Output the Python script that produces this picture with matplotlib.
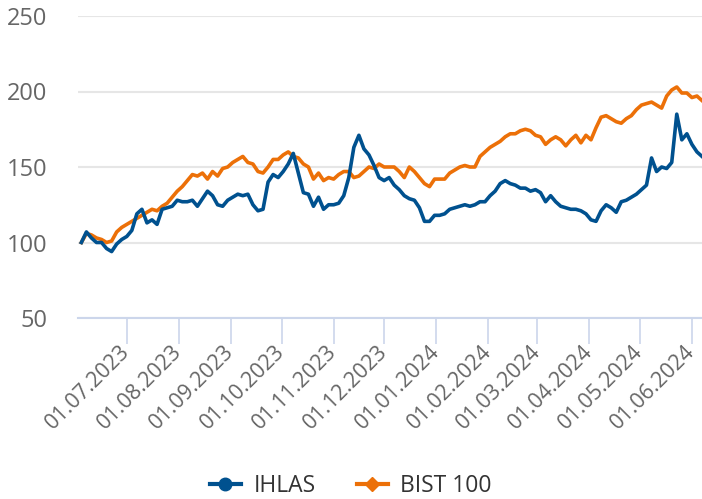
import pandas as pd
import numpy as np
import matplotlib
matplotlib.use('Agg')
import matplotlib.pyplot as plt
import matplotlib.dates as mdates
from matplotlib.lines import Line2D

# tarihler: 3 gunluk adimlarla
dates = pd.date_range('2023-06-04', '2024-06-07', freq='3D')

ihlas = [100, 107, 103, 100, 100, 96, 94, 99, 102, 104,
         108, 119, 122, 113, 115, 112, 122, 123, 124, 128,
         127, 127, 128, 124, 129, 134, 131, 125, 124, 128,
         130, 132, 131, 132, 125, 121, 122, 140, 145, 143,
         147, 152, 159, 146, 133, 132, 124, 130, 122, 125,
         125, 126, 131, 143, 163, 171, 162, 158, 151, 143,
         141, 143, 138, 135, 131, 129, 128, 123, 114, 114,
         118, 118, 119, 122, 123, 124, 125, 124, 125, 127,
         127, 131, 134, 139, 141, 139, 138, 136, 136, 134,
         135, 133, 127, 131, 127, 124, 123, 122, 122, 121,
         119, 115, 114, 121, 125, 123, 120, 127, 128, 130,
         132, 135, 138, 156, 147, 150, 149, 153, 185, 168,
         172, 165, 160, 157]

bist100 = [100, 106, 105, 103, 102, 100, 101, 107, 110, 112,
           114, 116, 118, 120, 122, 121, 124, 126, 130, 134,
           137, 141, 145, 144, 146, 142, 147, 144, 149, 150,
           153, 155, 157, 153, 152, 147, 146, 150, 155, 155,
           158, 160, 157, 156, 152, 150, 142, 146, 141, 143,
           142, 145, 147, 147, 143, 144, 147, 150, 149, 152,
           150, 150, 150, 147, 143, 150, 147, 143, 139, 137,
           142, 142, 142, 146, 148, 150, 151, 150, 150, 157,
           160, 163, 165, 167, 170, 172, 172, 174, 175, 174,
           171, 170, 165, 168, 170, 168, 164, 168, 171, 166,
           171, 168, 176, 183, 184, 182, 180, 179, 182, 184,
           188, 191, 192, 193, 191, 189, 197, 201, 203, 199,
           199, 196, 197, 194]

blue = '#00518f'
orange = '#ec7008'

fig = plt.figure(figsize=(7.02, 4.99), dpi=100)
ax = fig.add_axes([78 / 702, 1 - 318 / 499, 624 / 702, 302 / 499])

ax.plot(dates, ihlas, color=blue, lw=2.6, solid_joinstyle='round', zorder=3)
ax.plot(dates, bist100, color=orange, lw=2.6, solid_joinstyle='round', zorder=2)

ax.set_ylim(50, 250)
ax.set_yticks([50, 100, 150, 200, 250])
ax.set_xlim(pd.Timestamp('2023-06-02'), pd.Timestamp('2024-06-07'))
ax.xaxis.set_major_locator(mdates.MonthLocator(bymonthday=1))
ax.xaxis.set_major_formatter(mdates.DateFormatter('%d.%m.%Y'))

ax.grid(axis='y', color='#e6e6e6', lw=1.5)
ax.set_axisbelow(True)
for s in ['top', 'right', 'left']:
    ax.spines[s].set_visible(False)
ax.spines['bottom'].set_color('#ccd6eb')
ax.spines['bottom'].set_linewidth(1.5)

ax.tick_params(axis='y', length=0, pad=22, labelsize=17, labelcolor='#666666')
ax.tick_params(axis='x', length=19, width=1.2, color='#ccd6eb', labelsize=15.5,
               labelcolor='#666666', pad=3)
for t in ax.get_yticklabels():
    t.set_fontfamily(['Open Sans', 'DejaVu Sans'])
for t in ax.get_xticklabels():
    t.set_fontfamily(['Open Sans', 'DejaVu Sans'])
    t.set_rotation(45)
    t.set_ha('right')
    t.set_va('center')
    t.set_rotation_mode('anchor')

handles = [Line2D([], [], color=blue, lw=3, marker='o', ms=9),
           Line2D([], [], color=orange, lw=3, marker='D', ms=7)]
fig.legend(handles, ['IHLAS', 'BIST 100'], loc='center', bbox_to_anchor=(0.5, 0.027),
           ncol=2, frameon=False, handlelength=1.35, columnspacing=1.8, handletextpad=0.55,
           prop={'family': ['Open Sans', 'DejaVu Sans'], 'size': 16.5},
           labelcolor='#333333')

fig.savefig('out.png', dpi=100)
